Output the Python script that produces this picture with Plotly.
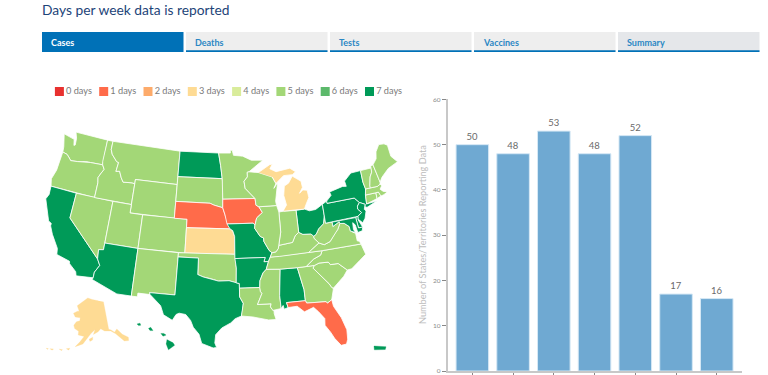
import numpy as np
import plotly.graph_objects as go

TITLE = "Days per week data is reported"
TABS = ["Cases", "Deaths", "Tests", "Vaccines", "Summary"]
LEGEND_LABELS = ["0 days", "1 days", "2 days", "3 days", "4 days", "5 days", "6 days", "7 days"]
DAY_COLORS = ["#e8312f", "#ff6b4a", "#fdab6b", "#fedb94", "#d9ec9b", "#a3d777", "#5cb96b", "#009a58"]

BAR_CATEGORIES = ["W1", "W2", "W3", "W4", "W5", "W6", "W7"]
BAR_VALUES = [50, 48, 53, 48, 52, 17, 16]
BAR_AXIS_TITLE = "Number of States/Territories Reporting Data"
BAR_TICKS = [0, 10, 20, 30, 40, 50, 60]

DAYS_7 = ["CA", "AZ", "ND", "TX", "MO", "AR", "AL", "OH", "PA", "NY", "NJ", "DE", "MD", "HI", "PR"]
DAYS_3 = ["KS", "MI", "AK"]
DAYS_1 = ["NE", "IA", "FL"]
# every other state reports 5 days
DAYS_5 = ["WA", "OR", "NV", "ID", "MT", "WY", "UT", "CO", "NM", "SD", "OK", "MN", "LA", "WI", "IL", "IN",
          "KY", "TN", "MS", "GA", "SC", "NC", "VA", "WV", "CT", "RI", "MA", "VT", "NH", "ME"]

# simplified state outlines, (lon, lat); None separates islands / parts
STATE_OUTLINES = {
"WA": [(-124.7,48.4),(-123.2,48.15),(-122.75,48.1),(-122.5,47.4),(-122.3,47.5),(-122.4,48.3),(-122.8,49),(-117.03,49),(-117.04,46.4),(-116.92,45.99),(-119,45.93),(-119.6,45.92),(-121.2,45.65),(-122.3,45.55),(-122.8,45.9),(-123.2,46.15),(-124,46.27),(-124.1,46.9)],
"OR": [(-124,46.27),(-123.2,46.15),(-122.8,45.9),(-122.3,45.55),(-121.2,45.65),(-119.6,45.92),(-119,45.93),(-116.92,45.99),(-116.5,45.5),(-116.85,45),(-117.2,44.4),(-117.03,43.8),(-117.03,42),(-124.2,42),(-124.5,42.85),(-124.1,44)],
"CA": [(-124.2,42),(-120,42),(-120,39),(-114.63,35),(-114.14,34.3),(-114.7,33.4),(-114.72,32.72),(-117.12,32.53),(-117.3,33),(-118.4,33.75),(-118.5,34.03),(-120.5,34.45),(-120.65,35.15),(-121.9,36.6),(-122.5,37.5),(-122.5,37.8),(-123,38),(-123.8,39.3),(-124.4,40.4),(-124.1,41)],
"NV": [(-120,42),(-114.04,42),(-114.04,36.2),(-114.75,36.1),(-114.63,35),(-120,39)],
"ID": [(-117.03,49),(-116.05,49),(-116.05,48),(-115.7,47.45),(-114.7,46.7),(-114.35,46.65),(-114.5,45.55),(-113.9,45.65),(-113.45,44.95),(-113,44.45),(-111.5,44.55),(-111.05,44.48),(-111.05,42),(-117.03,42),(-117.03,43.8),(-117.2,44.4),(-116.85,45),(-116.5,45.5),(-116.92,45.99),(-117.04,46.4)],
"MT": [(-116.05,49),(-104.05,49),(-104.05,45),(-111.05,45),(-111.05,44.48),(-111.5,44.55),(-113,44.45),(-113.45,44.95),(-113.9,45.65),(-114.5,45.55),(-114.35,46.65),(-114.7,46.7),(-115.7,47.45),(-116.05,48)],
"WY": [(-111.05,45),(-104.05,45),(-104.05,41),(-111.05,41)],
"UT": [(-114.04,42),(-111.05,42),(-111.05,41),(-109.05,41),(-109.05,37),(-114.04,37)],
"AZ": [(-114.04,37),(-109.05,37),(-109.05,31.33),(-111.07,31.33),(-114.81,32.5),(-114.72,32.72),(-114.7,33.4),(-114.14,34.3),(-114.63,35),(-114.75,36.1),(-114.04,36.2)],
"CO": [(-109.05,41),(-102.05,41),(-102.05,37),(-109.05,37)],
"NM": [(-109.05,37),(-103,37),(-103.05,32),(-106.6,32),(-106.5,31.78),(-108.2,31.78),(-108.2,31.33),(-109.05,31.33)],
"ND": [(-104.05,49),(-97.23,49),(-96.85,47.5),(-96.56,45.94),(-104.05,45.94)],
"SD": [(-104.05,45.94),(-96.56,45.94),(-96.45,45.3),(-96.45,43.5),(-96.45,42.49),(-97.9,42.8),(-98.5,43),(-104.05,43)],
"NE": [(-104.05,43),(-98.5,43),(-97.9,42.8),(-96.45,42.49),(-96.1,41.7),(-95.9,41.2),(-95.31,40),(-102.05,40),(-102.05,41),(-104.05,41)],
"KS": [(-102.05,40),(-95.31,40),(-94.9,39.8),(-94.61,39.1),(-94.62,37),(-102.05,37)],
"OK": [(-103,37),(-94.62,37),(-94.43,35.4),(-94.48,33.64),(-95.5,33.9),(-97,33.85),(-98,34.1),(-99.2,34.3),(-100,34.56),(-100,36.5),(-103,36.5)],
"TX": [(-103.05,32),(-103,36.5),(-100,36.5),(-100,34.56),(-99.2,34.3),(-98,34.1),(-97,33.85),(-95.5,33.9),(-94.48,33.64),(-94.04,33.55),(-94.04,31.99),(-93.55,31.2),(-93.7,30.3),(-93.85,29.7),(-94.7,29.4),(-95.3,28.9),(-96.5,28.3),(-97.3,27.5),(-97.4,26.5),(-97.15,25.96),(-97.6,25.9),(-99.1,26.4),(-99.5,27.5),(-100.3,28.3),(-100.7,29.1),(-101.4,29.77),(-102.3,29.88),(-102.7,29.7),(-103.15,28.98),(-104.4,29.55),(-104.9,30.6),(-106.5,31.78),(-106.6,32)],
"MN": [(-97.23,49),(-95.15,49),(-95.15,49.38),(-94.8,49.3),(-94.6,48.72),(-93,48.6),(-91.5,48.07),(-89.5,48),(-92,46.7),(-92.3,46.65),(-92.3,46.1),(-92.9,45.6),(-92.75,44.75),(-91.2,43.5),(-96.45,43.5),(-96.45,45.3),(-96.56,45.94),(-96.85,47.5)],
"IA": [(-96.45,43.5),(-91.2,43.5),(-91.1,42.7),(-90.65,42.5),(-90.15,41.8),(-91.1,41.2),(-91.42,40.38),(-91.7,40.6),(-95.77,40.58),(-95.9,41.2),(-96.1,41.7),(-96.45,42.49)],
"MO": [(-95.77,40.58),(-91.7,40.6),(-91.42,40.38),(-91.5,40),(-90.7,39),(-90.2,38.8),(-90.2,38.4),(-89.5,37.3),(-89.1,37),(-89.4,36.5),(-89.7,36),(-90.37,36),(-90.15,36.5),(-94.62,36.5),(-94.62,37),(-94.61,39.1),(-94.9,39.8),(-95.31,40)],
"AR": [(-94.62,36.5),(-90.15,36.5),(-90.37,36),(-89.7,36),(-90.1,35.1),(-90.6,34.7),(-91.1,33.8),(-91.17,33),(-94.04,33),(-94.04,33.55),(-94.48,33.64),(-94.43,35.4)],
"LA": [(-94.04,33),(-91.17,33),(-91.1,32.5),(-90.9,32.3),(-91.6,31),(-89.73,31),(-89.85,30.65),(-89.55,30.2),(-89.4,30.05),(-89.4,29.8),(-89.2,29.1),(-90.2,29.1),(-91.3,29.3),(-92.3,29.55),(-93.85,29.7),(-93.7,30.3),(-93.55,31.2),(-94.04,31.99)],
"MS": [(-90.1,35.1),(-88.2,35),(-88.1,34.9),(-88.47,31.9),(-88.4,30.35),(-89.55,30.2),(-89.85,30.65),(-89.73,31),(-91.6,31),(-90.9,32.3),(-91.1,32.5),(-91.17,33),(-91.1,33.8),(-90.6,34.7)],
"AL": [(-88.2,35),(-85.6,34.98),(-85,32.3),(-85,31),(-87.6,31),(-87.45,30.4),(-88,30.25),(-88.1,30.7),(-88.4,30.35),(-88.47,31.9),(-88.1,34.9)],
"GA": [(-85.6,34.98),(-83.1,35),(-83.35,34.7),(-81.4,32.6),(-81.1,32.1),(-80.9,32.03),(-81.4,30.7),(-82.05,30.37),(-82.2,30.57),(-84.86,30.7),(-85,31),(-85,32.3)],
"FL": [(-87.6,31),(-85,31),(-84.86,30.7),(-82.2,30.57),(-82.05,30.37),(-81.4,30.7),(-81.3,29.9),(-80.5,28.4),(-80.05,26.9),(-80.15,25.75),(-80.4,25.2),(-81.1,25.15),(-81.8,26.1),(-82.2,26.9),(-82.8,27.8),(-82.7,28.6),(-83.4,29.5),(-84,30.1),(-85.3,29.7),(-86.2,30.45),(-87.45,30.4)],
"SC": [(-83.35,34.7),(-83.1,35),(-82.4,35.2),(-81.05,35.15),(-80.8,34.82),(-79.67,34.8),(-78.55,33.86),(-79.2,33.2),(-80.9,32.03),(-81.1,32.1),(-81.4,32.6)],
"NC": [(-84.32,34.99),(-83.1,35),(-82.4,35.2),(-81.05,35.15),(-80.8,34.82),(-79.67,34.8),(-78.55,33.86),(-77.9,33.9),(-76.5,34.7),(-75.5,35.25),(-75.85,36.55),(-81.68,36.59),(-82,36.1),(-83.1,35.75)],
"TN": [(-90.1,35.1),(-88.2,35),(-85.6,34.98),(-84.32,34.99),(-83.1,35.75),(-82,36.1),(-81.68,36.59),(-83.68,36.6),(-88.05,36.5),(-89.4,36.5),(-89.7,36)],
"KY": [(-89.4,36.5),(-88.05,36.5),(-83.68,36.6),(-81.97,37.54),(-82.6,38.17),(-82.6,38.42),(-83,38.73),(-84.2,38.8),(-84.8,39.1),(-85.4,38.73),(-85.9,38),(-87,37.9),(-88,37.8),(-88.1,37.45),(-88.5,37.07),(-89.1,37)],
"VA": [(-83.68,36.6),(-81.68,36.59),(-75.85,36.55),(-76,36.9),(-76.3,37),(-76.3,37.9),(-77,38.3),(-77.05,38.85),(-77.7,39.32),(-78.35,39.4),(-78.85,38.75),(-79.3,38.42),(-80.3,37.5),(-81.23,37.25),(-81.97,37.54)],
"WV": [(-82.6,38.42),(-82.6,38.17),(-81.97,37.54),(-81.23,37.25),(-80.3,37.5),(-79.3,38.42),(-78.85,38.75),(-78.35,39.4),(-77.7,39.32),(-78.4,39.62),(-79.48,39.2),(-79.48,39.72),(-80.52,39.72),(-80.52,40.64),(-80.85,39.7),(-81.7,39.2),(-82.2,38.6)],
"OH": [(-84.8,41.7),(-83.45,41.73),(-82.7,41.45),(-81.7,41.5),(-80.52,41.98),(-80.52,40.64),(-80.85,39.7),(-81.7,39.2),(-82.2,38.6),(-82.6,38.42),(-83,38.73),(-84.2,38.8),(-84.8,39.1)],
"IN": [(-87.53,41.71),(-86.8,41.76),(-84.8,41.7),(-84.8,39.1),(-85.4,38.73),(-85.9,38),(-87,37.9),(-88,37.8),(-87.53,39.35)],
"IL": [(-90.65,42.5),(-87.8,42.5),(-87.53,41.71),(-87.53,39.35),(-88,37.8),(-88.1,37.45),(-88.5,37.07),(-89.1,37),(-89.5,37.3),(-90.2,38.4),(-90.2,38.8),(-90.7,39),(-91.5,40),(-91.42,40.38),(-91.1,41.2),(-90.15,41.8)],
"WI": [(-92,46.7),(-90.4,46.55),(-88.1,45.9),(-87.6,45.1),(-88,44.55),(-87.3,45.2),(-87.5,44.5),(-87.9,43),(-87.8,42.5),(-90.65,42.5),(-91.1,42.7),(-91.2,43.5),(-92.75,44.75),(-92.9,45.6),(-92.3,46.1),(-92.3,46.65)],
"MI": [(-86.8,41.76),(-84.8,41.7),(-83.45,41.73),(-83.1,42.25),(-82.5,43),(-82.6,43.9),(-83.3,44),(-83.9,43.65),(-83.3,44.3),(-83.4,45.05),(-84.75,45.78),(-85.5,45),(-86.25,44.7),(-86.5,43.6),(-86.2,42.4),None,
       (-90.4,46.55),(-88.4,47.4),(-87.9,47.45),(-88.4,46.9),(-87.4,46.5),(-85,46.75),(-84.1,46.25),(-84.7,45.95),(-86.2,45.95),(-87.6,45.1),(-88.1,45.9)],
"PA": [(-80.52,41.98),(-79.76,42.27),(-79.76,42),(-75.35,42),(-74.7,41.36),(-75.13,40.99),(-75.2,40.65),(-74.72,40.15),(-75.42,39.8),(-80.52,39.72)],
"NY": [(-79.76,42.27),(-78.9,42.85),(-79.05,43.27),(-76.8,43.63),(-76.2,43.55),(-76.3,44.2),(-75,44.98),(-73.34,45),(-73.4,43.6),(-73.25,42.75),(-73.5,42.05),(-73.65,41),(-72,41.05),(-73.7,40.6),(-74,40.7),(-73.9,41),(-74.7,41.36),(-75.35,42),(-79.76,42)],
"NJ": [(-74.7,41.36),(-73.9,41),(-74.2,40.45),(-74,40.2),(-74.4,39.4),(-74.9,38.95),(-75.5,39.5),(-75.42,39.8),(-74.72,40.15),(-75.2,40.65),(-75.13,40.99)],
"DE": [(-75.79,39.72),(-75.42,39.8),(-75.5,39.4),(-75.05,38.45),(-75.7,38.46)],
"MD": [(-79.48,39.72),(-75.79,39.72),(-75.7,38.46),(-75.05,38.45),(-75.25,38.03),(-75.95,37.95),(-76.1,38.9),(-76.4,39.2),(-76.5,38.4),(-76.3,38),(-77,38.3),(-77.05,38.85),(-77.7,39.32),(-78.35,39.4),(-78.4,39.62),(-79.48,39.2)],
"CT": [(-73.65,41),(-73.5,42.05),(-71.8,42.02),(-71.85,41.32)],
"RI": [(-71.8,42.02),(-71.38,42.02),(-71.15,41.5),(-71.85,41.32)],
"MA": [(-73.5,42.05),(-73.25,42.75),(-71.3,42.7),(-70.8,42.87),(-70.6,42.65),(-71,42.3),(-70.6,41.95),(-70,41.8),(-70.3,41.7),(-70.65,41.55),(-71.15,41.5),(-71.38,42.02),(-71.8,42.02)],
"VT": [(-73.34,45),(-71.5,45),(-71.6,44.5),(-72.05,44),(-72.45,43),(-72.46,42.73),(-73.25,42.75),(-73.4,43.6)],
"NH": [(-71.5,45.25),(-71.08,45.3),(-70.7,43.1),(-70.8,42.87),(-71.3,42.7),(-72.46,42.73),(-72.45,43),(-72.05,44),(-71.6,44.5),(-71.5,45)],
"ME": [(-71.08,45.3),(-70.3,45.9),(-70,46.7),(-69.2,47.45),(-68.3,47.35),(-67.8,47.07),(-67.8,45.7),(-67,44.85),(-68.8,44.4),(-70.2,43.6),(-70.7,43.1)],
"AK": [(-141,69.6),(-141,60.3),(-139.5,59.9),(-137.5,58.9),(-135.5,59.7),(-133,57.5),(-130,55.9),(-130.5,54.8),(-133,55.2),(-135,57),(-137,58.3),(-139.8,59.6),(-144,60),(-146.5,60.9),(-148.5,60),(-151.8,59.2),(-150.5,60.8),(-153.5,59.5),(-156,57.8),(-158.5,56),(-163,54.8),(-160.5,56.5),(-158,58.5),(-162,58.8),(-162,60),(-165,60.7),(-166,61.7),(-164.5,63),(-162,63.5),(-162,64.5),(-166,64.5),(-168,65.6),(-165,66.5),(-163.5,66.6),(-166,68.3),(-163,69.5),(-156.5,71.3),(-152,70.8),(-146,70.2),None,
       (-154.7,57.6),(-152.3,58.3),(-152.5,57.4),(-154.2,56.9),None,
       (-168,53.6),(-166,54),(-166.5,53.3),None,(-172,52.9),(-170,53),(-170.5,52.6),None,(-177,52),(-175,52.4),(-175.5,51.8),None,(-179,51.7),(-177.8,51.9),(-178,51.5)],
"HI": [(-155.9,20.2),(-155.1,19.8),(-154.9,19.5),(-155.7,18.95),(-156,19.7),None,
       (-156.7,20.95),(-156.3,20.95),(-156,20.75),(-156.4,20.6),None,
       (-158.3,21.55),(-158,21.7),(-157.7,21.3),(-158.1,21.3),None,
       (-159.8,22.1),(-159.4,22.2),(-159.3,21.95),(-159.6,21.9)],
"PR": [(-67.25,18.5),(-65.6,18.4),(-65.7,18),(-67.2,17.95)],
}

# where known places land on the page (lon, lat, px x, px y), used to fit each inset
CONUS_ANCHORS = [(-124.4,40.4,47.3,198),(-124.7,48.4,65,135),(-67,44.85,395.7,161.7),(-69.2,47.45,383,144),
                 (-81,25.15,341.7,345),(-97.2,25.96,212,348),(-104.05,49,178.5,152),(-97.23,49,220,152)]
ALASKA_ANCHORS = [(-156.5,71.3,88,300),(-141,60.3,109,330),(-130,55,129,341),(-166,64.5,75,313)]
HAWAII_ANCHORS = [(-159.8,22.1,137,324),(-154.9,19.5,175,345),(-155.7,18.95,168,350)]
PUERTO_ANCHORS = [(-67.25,18.5,374,346),(-65.6,18,386,349.5)]


def albers(lon, lat, lon0, lat0, p1, p2):
    lam, phi = np.radians(lon), np.radians(lat)
    l0, f0, f1, f2 = map(np.radians, (lon0, lat0, p1, p2))
    n = (np.sin(f1) + np.sin(f2)) / 2
    c = np.cos(f1) ** 2 + 2 * n * np.sin(f1)
    rho = np.sqrt(c - 2 * n * np.sin(phi)) / n
    rho0 = np.sqrt(c - 2 * n * np.sin(f0)) / n
    return rho * np.sin(n * (lam - l0)), rho0 - rho * np.cos(n * (lam - l0))


def make_projection(anchors, params):
    a = np.array(anchors, dtype=float)
    X, Y = albers(a[:, 0], a[:, 1], *params)
    fx = np.polyfit(X, a[:, 2], 1)
    fy = np.polyfit(Y, a[:, 3], 1)

    def project(points):
        xs, ys = [], []
        for p in points:
            if p is None:
                xs.append(None)
                ys.append(None)
            else:
                u, v = albers(p[0], p[1], *params)
                xs.append(float(np.polyval(fx, u)))
                ys.append(float(np.polyval(fy, v)))
        return xs, ys
    return project


proj_conus = make_projection(CONUS_ANCHORS, (-96, 37.5, 29.5, 45.5))
proj_ak = make_projection(ALASKA_ANCHORS, (-154, 50, 55, 65))
proj_hi = make_projection(HAWAII_ANCHORS, (-157, 20, 8, 18))
proj_pr = make_projection(PUERTO_ANCHORS, (-66, 18, 8, 18))

days_by_state = {}
for days, group in ((7, DAYS_7), (5, DAYS_5), (3, DAYS_3), (1, DAYS_1)):
    for st in group:
        days_by_state[st] = days

FONT = "Lato, 'Open Sans', sans-serif"
fig = go.Figure()

# map
for st, outline in STATE_OUTLINES.items():
    proj = {"AK": proj_ak, "HI": proj_hi, "PR": proj_pr}.get(st, proj_conus)
    xs, ys = proj(outline)
    if None not in xs:
        xs.append(xs[0])
        ys.append(ys[0])
    island = st in ("AK", "HI", "PR")
    fig.add_trace(go.Scatter(x=xs, y=ys, mode="lines", fill="toself", xaxis="x2", yaxis="y2",
                             fillcolor=DAY_COLORS[days_by_state[st]], name=st, showlegend=False,
                             line=dict(color=DAY_COLORS[days_by_state[st]] if island else "#ffffff",
                                       width=0.3 if island else 0.8),
                             hovertemplate=st + ": " + LEGEND_LABELS[days_by_state[st]] + "<extra></extra>"))

# legend keys
for i, (lab, col) in enumerate(zip(LEGEND_LABELS, DAY_COLORS)):
    fig.add_trace(go.Scatter(x=[59.4 + 44.3 * i], y=[91.5], mode="markers+text", xaxis="x2", yaxis="y2",
                             marker=dict(symbol="square", size=9, color=col), text=[lab],
                             textposition="middle right", textfont=dict(size=9.2, color="#7a7a7a", family=FONT),
                             showlegend=False, hoverinfo="skip", cliponaxis=False))

# bars
fig.add_trace(go.Bar(x=BAR_CATEGORIES, y=BAR_VALUES, width=0.8, marker=dict(color="#6fa9d2", line=dict(color="#d6e8f5", width=1)),
                     text=BAR_VALUES, textposition="outside", cliponaxis=False, showlegend=False,
                     textfont=dict(size=9.5, color="#6a6a6a", family=FONT), xaxis="x", yaxis="y"))

shapes = []
annotations = []
tab_left = [42, 186, 330, 474, 618]
for i, (tab, left) in enumerate(zip(TABS, tab_left)):
    active = i == 0
    fill = "#0071b7" if active else ("#e5e7ea" if i == 4 else "#eeeeee")
    shapes.append(dict(type="rect", xref="x2", yref="y2", x0=left, x1=left + 141.5, y0=32, y1=52,
                       fillcolor=fill, line=dict(width=0), layer="below"))
    if not active:
        shapes.append(dict(type="rect", xref="x2", yref="y2", x0=left, x1=left + 141.5, y0=50.3, y1=52,
                           fillcolor="#0071b7", line=dict(width=0), layer="below"))
    annotations.append(dict(text="<b>%s</b>" % tab, xref="x2", yref="y2", x=left + 7, y=42.5, xanchor="left", yanchor="middle",
                            showarrow=False, font=dict(size=9, color="#ffffff" if active else "#2b87c4", family=FONT)))
annotations.append(dict(text=TITLE, xref="x2", yref="y2", x=39.5, y=9.5, xanchor="left", yanchor="middle", showarrow=False,
                        font=dict(size=13.8, color="#1d4478", family=FONT)))
annotations.append(dict(text=BAR_AXIS_TITLE, xref="x2", yref="y2", x=422, y=235, textangle=-90, xanchor="center", yanchor="middle",
                        showarrow=False, font=dict(size=9.2, color="#bdbdbd", family=FONT)))

fig.update_layout(
    width=768, height=375, margin=dict(l=0, r=0, t=0, b=0, autoexpand=False), autosize=False,
    paper_bgcolor="#ffffff", plot_bgcolor="rgba(0,0,0,0)", showlegend=False, bargap=0.2,
    shapes=shapes, annotations=annotations,
    xaxis=dict(domain=[447.5 / 768, 742 / 768], anchor="y", type="category", categoryorder="array", categoryarray=BAR_CATEGORIES,
               range=[-0.61, 6.62], showgrid=False, zeroline=False, showticklabels=False, automargin=False,
               showline=True, linecolor="#c8c8c8", linewidth=1.5, ticks="outside", ticklen=3, tickcolor="#888888", tickwidth=1),
    yaxis=dict(domain=[4 / 375, 275.6 / 375], anchor="x", range=[0, 60], tickvals=BAR_TICKS, showgrid=False, zeroline=False,
               showline=True, linecolor="#c8c8c8", linewidth=1.5, ticks="outside", ticklen=4, tickcolor="#888888", tickwidth=1,
               tickfont=dict(size=6.5, color="#8a8a8a", family=FONT), automargin=False),
    xaxis2=dict(domain=[0, 1], range=[0, 768], anchor="y2", visible=False, fixedrange=True),
    yaxis2=dict(domain=[0, 1], range=[375, 0], anchor="x2", visible=False, fixedrange=True),
)

fig.write_html("out.html", config=dict(displayModeBar=False),
               post_script="document.body.style.margin='0';document.documentElement.style.overflow='hidden';")
